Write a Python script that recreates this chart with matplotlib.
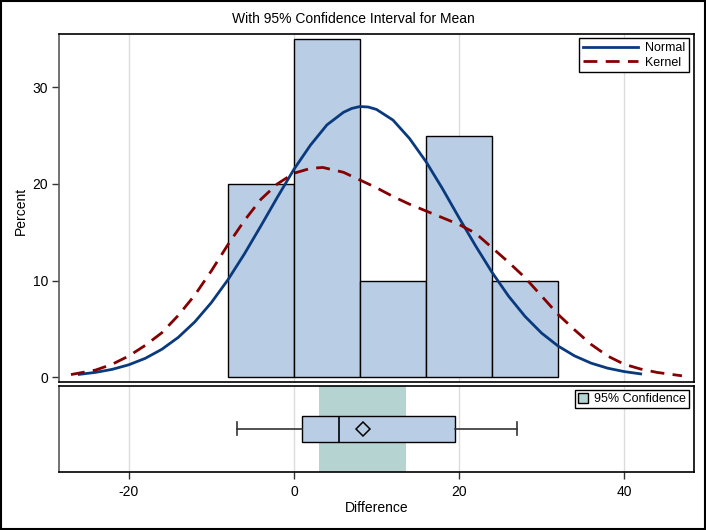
import matplotlib
matplotlib.use('Agg')
import matplotlib.pyplot as plt
from matplotlib.patches import Rectangle, Patch
from matplotlib.lines import Line2D

plt.rcParams['font.family'] = ['Liberation Sans', 'DejaVu Sans']
plt.rcParams['font.size'] = 9

# ---- data ----
bin_left = [-8, 0, 8, 16, 24]
bin_width = 8
percent = [20, 35, 10, 25, 10]

normal_x = [-26, -24, -22, -20, -18, -16, -14, -12, -10, -8, -6, -4, -2, 0, 2, 4, 6, 7, 8, 9,
            10, 12, 14, 16, 18, 20, 22, 24, 26, 28, 30, 32, 34, 36, 38, 40, 42]
normal_y = [0.30, 0.51, 0.82, 1.29, 1.96, 2.89, 4.13, 5.73, 7.72, 10.07, 12.75, 15.65,
            18.62, 21.5, 24.0, 26.1, 27.4, 27.8, 28.0, 27.95, 27.7, 26.6, 24.7, 22.3, 19.5,
            16.5, 13.6, 10.85, 8.39, 6.29, 4.57, 3.23, 2.21, 1.46, 0.94, 0.59, 0.35]

kernel_x = [-27, -24, -22, -20, -18, -16, -14, -12, -10, -8, -6, -4, -2, 0, 2, 3.5, 6, 8,
            10, 12, 14, 16, 18, 20, 22, 24, 26, 28, 30, 32, 34, 36, 38, 40, 42, 44, 47]
kernel_y = [0.28, 0.75, 1.35, 2.2, 3.3, 4.6, 6.4, 8.5, 11.0, 13.7, 16.2, 18.4, 20.0, 21.1,
            21.6, 21.7, 21.2, 20.4, 19.6, 18.7, 17.9, 17.2, 16.5, 15.8, 14.9, 13.4, 11.9,
            10.3, 8.4, 6.5, 4.9, 3.4, 2.2, 1.35, 0.85, 0.5, 0.15]

box_min, box_q1, box_med, box_q3, box_max = -6.9, 1.0, 5.5, 19.5, 27.0
box_mean = 8.4
ci_low, ci_high = 3.1, 13.6

x_ticks = [-20, 0, 20, 40]
y_ticks = [0, 10, 20, 30]

# ---- styles ----
bar_color = '#B9CDE5'
normal_color = '#0A3A7E'
kernel_color = '#850000'
band_color = '#B5D3D0'
spine_gray = '#5a5a5a'

W, H = 706, 530
fig = plt.figure(figsize=(W / 100, H / 100), dpi=100)

L, R = 59, 693.5
ax = fig.add_axes([L / W, 1 - 382.3 / H, (R - L) / W, (382.3 - 34) / H])
axb = fig.add_axes([L / W, 1 - 472.3 / H, (R - L) / W, (472.3 - 385.5) / H], sharex=ax)

# main histogram
ax.set_axisbelow(True)
ax.bar(bin_left, percent, width=bin_width, align='edge', color=bar_color,
       edgecolor='black', linewidth=1.0, zorder=2)
ax.plot(normal_x, normal_y, color=normal_color, lw=2.0, zorder=3, label='Normal',
        solid_joinstyle='round')
ax.plot(kernel_x, kernel_y, color=kernel_color, lw=2.0, zorder=3, label='Kernel',
        dashes=(5, 3))
ax.set_xlim(-28.45, 48.4)
ax.set_ylim(-0.52, 35.5)
ax.set_xticks(x_ticks)
ax.set_yticks(y_ticks)
ax.xaxis.grid(True, color='#dcdcdc', lw=1.0)
ax.tick_params(axis='x', bottom=False, labelbottom=False)
ax.tick_params(axis='y', direction='out', length=5, width=1, pad=3, labelsize=10,
               color='#333333')
for s in ['top', 'right', 'bottom']:
    ax.spines[s].set_color('black')
ax.spines['left'].set_color(spine_gray)
for s in ax.spines.values():
    s.set_linewidth(1.2)

handles = [Line2D([], [], color=normal_color, lw=2.0),
           Line2D([], [], color=kernel_color, lw=2.0, dashes=(5, 3))]
leg = ax.legend(handles, ['Normal', 'Kernel'], loc='upper right', frameon=True,
                fancybox=False, edgecolor='black', framealpha=1, fontsize=9,
                handlelength=4.4, handletextpad=0.6, borderaxespad=0.35,
                borderpad=0.3, labelspacing=0.2)
leg.get_frame().set_linewidth(1.0)

# box plot panel
axb.set_axisbelow(True)
axb.axvspan(ci_low, ci_high, color=band_color, lw=0, zorder=1)
stats = [dict(med=box_med, q1=box_q1, q3=box_q3, whislo=box_min, whishi=box_max,
              mean=box_mean, fliers=[])]
axb.bxp(stats, positions=[0], widths=0.6, vert=False, patch_artist=True,
        showmeans=True, showfliers=False,
        boxprops=dict(facecolor=bar_color, edgecolor='black', linewidth=1.0),
        medianprops=dict(color='black', linewidth=1.2),
        whiskerprops=dict(color='#333333', linewidth=1.2),
        capprops=dict(color='#333333', linewidth=1.2),
        meanprops=dict(marker='D', markerfacecolor='none', markeredgecolor='black',
                       markersize=7, markeredgewidth=1.1),
        zorder=3)
axb.set_ylim(-1, 1)
axb.set_yticks([])
axb.set_xticks(x_ticks)
axb.set_xticklabels([str(t) for t in x_ticks])
axb.xaxis.grid(True, color='#dcdcdc', lw=1.0)
axb.tick_params(axis='x', direction='out', length=5, width=1, pad=4, labelsize=10,
                color='#333333')
for s in ['top', 'right', 'bottom']:
    axb.spines[s].set_color('black')
axb.spines['left'].set_color(spine_gray)
for s in axb.spines.values():
    s.set_linewidth(1.2)

legb = axb.legend([Patch(facecolor=band_color, edgecolor='black', lw=1.0)],
                  ['95% Confidence'], loc='upper right', frameon=True, fancybox=False,
                  edgecolor='black', framealpha=1, fontsize=9, handlelength=0.8,
                  handleheight=0.8, handletextpad=0.5, borderaxespad=0.35,
                  borderpad=0.25)
legb.get_frame().set_linewidth(1.0)

# texts
fig.text(0.5, 1 - 19 / H, 'With 95% Confidence Interval for Mean', ha='center',
         va='center', fontsize=10)
fig.text(21 / W, 1 - 211 / H, 'Percent', rotation=90, ha='center', va='center',
         fontsize=10)
fig.text((L + R) / 2 / W, 1 - 508 / H, 'Difference', ha='center', va='center',
         fontsize=10)

# outer frame
fig.patches.append(Rectangle((0.001, 0.001), 0.998, 0.998, transform=fig.transFigure,
                             fill=False, edgecolor='black', lw=1.5))

fig.savefig('out.png', dpi=100)
